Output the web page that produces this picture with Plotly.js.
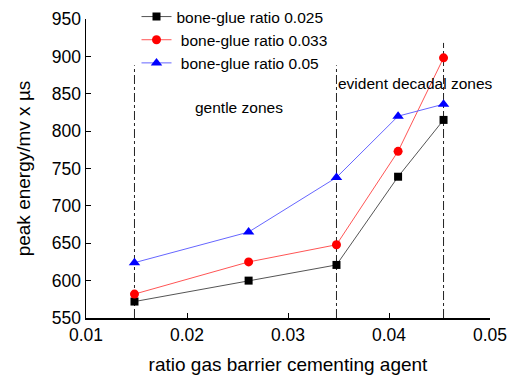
<!DOCTYPE html>
<html>
<head>
<meta charset="utf-8">
<script src="https://cdn.plot.ly/plotly-3.0.1.min.js"></script>
<style>html,body{margin:0;padding:0;background:#fff}#chart{width:511px;height:378px}</style>
</head>
<body>
<div id="chart"></div>
<script>
const ratioX = [0.0148, 0.0261, 0.0348, 0.0409, 0.0454];
const series025 = [572, 600, 621, 739, 815];
const series033 = [582, 625, 648, 773, 898];
const series05 = [624, 665, 738, 820, 836];
const seriesNames = ['bone-glue ratio 0.025', ' bone-glue ratio 0.033', ' bone-glue ratio 0.05'];
const zoneLinesX = [0.0148, 0.0348, 0.0454];
const zoneLinesTop = [888, 888, 918];
const zoneLabels = ['gentle zones', 'evident decadal zones'];
const zoneLabelX = [0.02515, 0.04267];
const zoneLabelY = [831, 864];

const traces = [];
zoneLinesX.forEach((x, i) => {
  traces.push({x: [x, x], y: [550, zoneLinesTop[i]], mode: 'lines', showlegend: false, hoverinfo: 'skip',
    line: {color: '#222', width: 1, dash: 'dashdot'}});
});
traces.push({x: ratioX, y: series025, name: seriesNames[0], mode: 'lines+markers',
  line: {color: '#555555', width: 1}, marker: {color: '#000000', symbol: 'square', size: 8}});
traces.push({x: ratioX, y: series033, name: seriesNames[1], mode: 'lines+markers',
  line: {color: '#ff5555', width: 1}, marker: {color: '#ff0000', symbol: 'circle', size: 9}});
traces.push({x: ratioX, y: series05, name: seriesNames[2], mode: 'lines+markers',
  line: {color: '#6666ff', width: 1}, marker: {color: '#0000ff', symbol: 'triangle-up', size: 10}});

const layout = {
  width: 511, height: 378,
  margin: {l: 86, r: 21, t: 19, b: 60, autoexpand: false},
  paper_bgcolor: '#fff', plot_bgcolor: '#fff',
  font: {family: 'Liberation Sans, Arial, sans-serif', color: '#000'},
  xaxis: {range: [0.01, 0.05], dtick: 0.01, tick0: 0.01, ticks: 'inside', ticklen: 5, tickcolor: '#000',
    showline: true, linecolor: '#000', linewidth: 1.5, showgrid: false, zeroline: false,
    tickfont: {size: 17.5}, title: {text: 'ratio gas barrier cementing agent', font: {size: 19}, standoff: 14}},
  yaxis: {range: [550, 950], dtick: 50, ticks: 'inside', ticklen: 5, tickcolor: '#000',
    showline: true, linecolor: '#000', linewidth: 1.5, showgrid: false, zeroline: false,
    tickfont: {size: 17.5}, title: {text: 'peak energy/mv x µs', font: {size: 19}, standoff: 16}},
  legend: {x: 0.125, y: 1.0, yref: 'container', xanchor: 'left', yanchor: 'top', bgcolor: 'rgba(0,0,0,0)',
    font: {size: 15.5}, tracegroupgap: 0},
  annotations: zoneLabels.map((t, i) => ({x: zoneLabelX[i], y: zoneLabelY[i], text: t, showarrow: false,
    font: {size: 15.5}, xanchor: 'center', yanchor: 'middle'}))
};
Plotly.newPlot('chart', traces, layout, {displayModeBar: false, staticPlot: true});
</script>
</body>
</html>
